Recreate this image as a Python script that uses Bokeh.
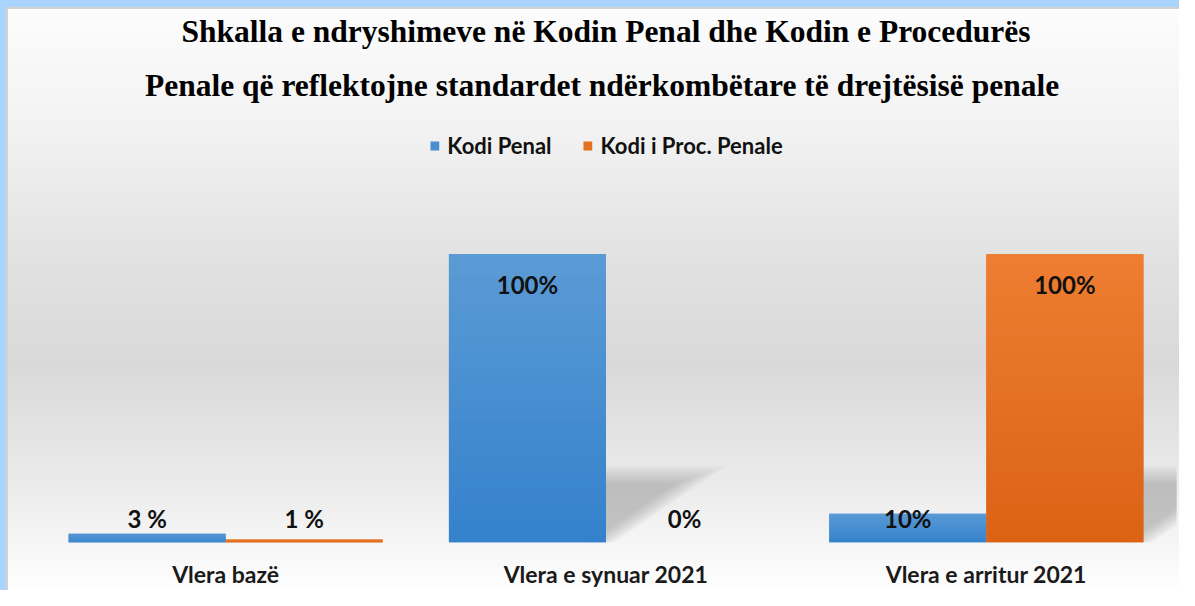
from bokeh.plotting import figure
from bokeh.models import ColumnDataSource, Range1d, Legend, LegendItem, LabelSet, Title, FixedTicker
from bokeh.core.properties import value
from bokeh.embed import file_html
from bokeh.resources import INLINE

# ---- data ----
categories = ["Vlera bazë", "Vlera e synuar 2021", "Vlera e arritur 2021"]
series_names = ["Kodi Penal", "Kodi i Proc. Penale"]
kodi_penal = [3, 100, 10]
kodi_proc = [1, 0, 100]
labels_penal = ["3 %", "100%", "10%"]
labels_proc = ["1 %", "0%", "100%"]
title_lines = [
    "Shkalla e ndryshimeve në Kodin Penal dhe Kodin e Procedurës",
    "Penale që reflektojne  standardet ndërkombëtare të drejtësisë penale",
]

# ---- styles ----
BLUE_TOP, BLUE_BOT = (91, 155, 213), (52, 129, 204)
ORNG_TOP, ORNG_BOT = (238, 126, 50), (219, 98, 19)
BAR_W = 0.413
OFF = BAR_W / 2
pos = [i + 1 for i in range(len(categories))]
PX_X = 1.0 / 380.0   # data units per pixel (x)
PX_Y = 1.0 / 2.91    # data units per pixel (y)


def hexc(c):
    return "#%02x%02x%02x" % tuple(int(round(v)) for v in c)


def mix(a, b, t):
    return tuple(a[i] + (b[i] - a[i]) * t for i in range(3))


def label_pos(v):
    return v - 10.3 if v >= 50 else 8.5


p = figure(
    x_range=Range1d(0.5, len(categories) + 0.5),
    y_range=Range1d(0, 144.7),
    width=1179, height=590,
    output_backend="svg", toolbar_location=None,
    min_border_left=35, min_border_right=3,
    min_border_top=125, min_border_bottom=44,
)
p.background_fill_alpha = 0
p.border_fill_alpha = 0
p.outline_line_color = None
p.styles = {
    "background": "linear-gradient(to bottom, #fdfdfd 0%, #f2f2f2 22%, #e1e1e1 45%, #d9d9d9 62%, #ebebeb 82%, #fefefe 100%)",
    "box-shadow": "inset 0 7px 0 #a8d4fd, inset 6px 0 0 #a8d4fd, inset 0 9px 0 #d2d2d2, inset 8px 0 0 #d2d2d2",
}

# ---- soft shadows behind tall bars (derived from bar values) ----
for vals, off in [(kodi_penal, -OFF), (kodi_proc, OFF)]:
    for x0, v in zip(pos, vals):
        if v < 50:
            continue
        xr = x0 + off + BAR_W / 2
        h = 0.245 * v
        w = 0.27
        xs_l, ys_l = [], []
        for k in range(10):
            d = -6 + k * 2.0
            ht = h - d * PX_Y
            dx = d * 1.4 * PX_X
            xs_l.append([xr - 0.05, xr - 0.05, xr + w * ht / h - dx, xr - dx])
            ys_l.append([0.0, ht, ht, 0.0])
        p.patches(xs_l, ys_l, fill_color="#6e6e6e", fill_alpha=0.042, line_color=None)

src = ColumnDataSource(dict(
    x=pos,
    x_penal=[x - OFF for x in pos],
    x_proc=[x + OFF for x in pos],
    penal=kodi_penal,
    proc=kodi_proc,
    lab_penal=labels_penal,
    lab_proc=labels_proc,
    y_penal=[label_pos(v) for v in kodi_penal],
    y_proc=[label_pos(v) for v in kodi_proc],
))

r1 = p.vbar(x="x_penal", top="penal", width=BAR_W, source=src,
            fill_color=hexc(mix(BLUE_TOP, BLUE_BOT, 0.5)), line_color=None)
r2 = p.vbar(x="x_proc", top="proc", width=BAR_W, source=src,
            fill_color=hexc(mix(ORNG_TOP, ORNG_BOT, 0.5)), line_color=None)

# vertical gradient overlay for each bar (slices relative to bar height)
N = 24
for vals, off, ctop, cbot in [(kodi_penal, -OFF, BLUE_TOP, BLUE_BOT), (kodi_proc, OFF, ORNG_TOP, ORNG_BOT)]:
    xs, bots, tops, cols = [], [], [], []
    for x0, v in zip(pos, vals):
        if v <= 0:
            continue
        for i in range(N):
            xs.append(x0 + off)
            bots.append(v * i / N)
            tops.append(v * (i + 1) / N + (0 if i == N - 1 else v * 0.002))
            cols.append(hexc(mix(cbot, ctop, (i + 0.5) / N)))
    s = ColumnDataSource(dict(x=xs, bottom=bots, top=tops, color=cols))
    p.vbar(x="x", bottom="bottom", top="top", width=BAR_W,
           source=s, fill_color="color", line_color=None)

lab_kw = dict(text_align="center", text_baseline="middle",
              text_font=value("Lato"), text_font_style="bold",
              text_font_size="24px", text_color="#111111")
p.add_layout(LabelSet(x="x_penal", y="y_penal", text="lab_penal", source=src, **lab_kw))
p.add_layout(LabelSet(x="x_proc", y="y_proc", text="lab_proc", source=src, **lab_kw))

legend = Legend(
    items=[LegendItem(label=series_names[0], renderers=[r1]),
           LegendItem(label=series_names[1], renderers=[r2])],
    location="top_center", orientation="horizontal",
    background_fill_alpha=0, border_line_alpha=0,
    label_text_font="Lato", label_text_font_style="bold", label_text_font_size="22px",
    label_text_color="#111111",
    glyph_width=11, glyph_height=11, spacing=30, label_standoff=8,
    padding=0, margin=7,
)
p.add_layout(legend)

title_kw = dict(align="center", text_font="Liberation Serif", text_font_style="bold",
                text_font_size="31.5px", text_color="#000000")
p.title.text = title_lines[0]
for k, v in title_kw.items():
    setattr(p.title, k, v)
p.title.standoff = -11
p.add_layout(Title(text=title_lines[1], standoff=45, **title_kw), "above")

p.yaxis.visible = False
p.xgrid.grid_line_color = None
p.ygrid.grid_line_color = None
p.xaxis.ticker = FixedTicker(ticks=pos)
p.xaxis.major_label_overrides = {x: c for x, c in zip(pos, categories)}
p.xaxis.axis_line_color = None
p.xaxis.major_tick_line_color = None
p.xaxis.minor_tick_line_color = None
p.xaxis.major_tick_out = 0
p.xaxis.major_label_standoff = 17
p.xaxis.major_label_text_font = "Lato"
p.xaxis.major_label_text_font_style = "bold"
p.xaxis.major_label_text_font_size = "23px"
p.xaxis.major_label_text_color = "#1a1a1a"

open("out.html", "w").write(file_html(p, INLINE))
